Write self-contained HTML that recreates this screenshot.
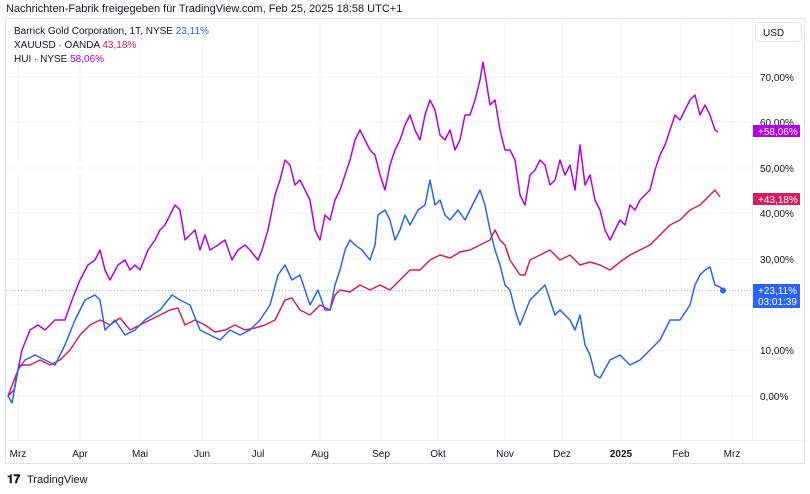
<!DOCTYPE html>
<html><head><meta charset="utf-8"><style>
body{margin:0;width:810px;height:489px;background:#fff;font-family:"Liberation Sans",sans-serif;overflow:hidden}
</style></head><body>
<svg width="810" height="489" xmlns="http://www.w3.org/2000/svg" font-family="Liberation Sans, sans-serif">
<text x="6" y="12" font-size="11" fill="#131722">Nachrichten-Fabrik freigegeben für TradingView.com, Feb 25, 2025 18:58 UTC+1</text>
<rect x="5.5" y="18.5" width="799" height="445" fill="none" stroke="#e0e3eb"/>
<line x1="752.5" y1="18" x2="752.5" y2="440" stroke="#eef0f3"/>
<line x1="6" y1="440.5" x2="804" y2="440.5" stroke="#eef0f3"/>
<g stroke="#f2f3f5">
<line x1="6" y1="77" x2="752" y2="77"/><line x1="6" y1="122" x2="752" y2="122"/><line x1="6" y1="168" x2="752" y2="168"/><line x1="6" y1="213" x2="752" y2="213"/><line x1="6" y1="259" x2="752" y2="259"/><line x1="6" y1="305" x2="752" y2="305"/><line x1="6" y1="350" x2="752" y2="350"/><line x1="6" y1="396" x2="752" y2="396"/>
<line x1="18" y1="18" x2="18" y2="440"/><line x1="80" y1="18" x2="80" y2="440"/><line x1="140" y1="18" x2="140" y2="440"/><line x1="202" y1="18" x2="202" y2="440"/><line x1="258" y1="18" x2="258" y2="440"/><line x1="320" y1="18" x2="320" y2="440"/><line x1="381" y1="18" x2="381" y2="440"/><line x1="438" y1="18" x2="438" y2="440"/><line x1="505" y1="18" x2="505" y2="440"/><line x1="562" y1="18" x2="562" y2="440"/><line x1="621" y1="18" x2="621" y2="440"/><line x1="681" y1="18" x2="681" y2="440"/><line x1="732" y1="18" x2="732" y2="440"/>
</g>
<line x1="6" y1="290.5" x2="752" y2="290.5" stroke="#9db4f0" stroke-dasharray="1,2"/>
<text x="14" y="34" font-size="10" fill="#131722">Barrick Gold Corporation, 1T, NYSE <tspan fill="#2962ff">23,11%</tspan></text>
<text x="14" y="48" font-size="10" fill="#131722">XAUUSD · OANDA <tspan fill="#d81b60">43,18%</tspan></text>
<text x="14" y="62" font-size="10" fill="#131722">HUI · NYSE <tspan fill="#b300e6">58,06%</tspan></text>
<rect x="755.5" y="22.5" width="46" height="19" rx="4" fill="#fff" stroke="#e0e3eb"/>
<text x="763" y="36" font-size="10" fill="#131722">USD</text>
<g font-size="10" fill="#131722">
<text x="760" y="81">70,00%</text><text x="760" y="126">60,00%</text><text x="760" y="172">50,00%</text><text x="760" y="217">40,00%</text><text x="760" y="263">30,00%</text><text x="760" y="354">10,00%</text><text x="760" y="400">0,00%</text>
</g>
<polyline fill="none" stroke="#b300e6" stroke-width="1.5" stroke-linejoin="round" points="8,396 14,390 22,350 30,330 38,325 45,330 55,320 65,320 72,300 80,280 88,265 95,260 100,250 105,270 110,280 118,265 125,260 130,270 135,265 140,270 148,250 155,240 160,230 165,225 170,215 175,205 180,210 185,240 195,230 200,250 205,235 210,250 218,245 225,240 232,260 238,250 245,245 250,250 258,260 262,250 268,230 275,195 280,180 285,160 290,165 295,185 300,180 305,190 310,200 315,230 320,240 325,215 330,220 335,200 340,190 345,175 350,160 355,140 360,130 365,140 370,150 375,155 380,175 385,190 390,165 395,150 400,140 405,125 410,115 415,130 420,140 425,115 430,100 435,110 440,135 445,140 450,130 455,150 460,140 465,115 470,115 475,100 480,80 483,62 486,80 490,105 495,100 500,130 505,150 510,150 515,160 520,195 525,205 530,175 535,170 540,160 545,165 550,185 555,180 560,160 565,175 570,165 575,190 580,145 585,185 590,175 595,200 600,210 605,230 610,240 615,230 620,220 625,225 630,205 635,210 640,200 645,195 650,190 655,170 660,155 665,145 670,130 675,115 680,120 685,110 690,100 695,95 700,115 705,105 710,115 715,130 718,132"/>
<polyline fill="none" stroke="#d81b60" stroke-width="1.5" stroke-linejoin="round" points="8,396 20,365 30,365 40,360 50,365 60,360 70,350 80,335 90,325 100,320 110,325 120,318 130,330 140,325 150,320 160,315 170,310 178,308 185,325 195,320 205,325 215,332 225,330 235,325 245,330 255,328 265,325 275,320 285,300 292,298 300,310 310,315 320,305 330,310 335,295 340,290 350,292 360,285 370,290 380,285 390,290 400,280 410,270 420,270 430,260 440,255 450,258 460,252 470,250 480,245 490,240 495,230 500,240 505,245 510,260 520,275 525,275 530,260 540,255 550,250 560,260 570,255 580,265 590,262 600,265 610,270 620,262 630,255 640,250 650,245 660,235 670,225 680,220 690,210 700,205 710,195 715,190 720,197"/>
<polyline fill="none" stroke="#2962ff" stroke-width="1.5" stroke-linejoin="round" points="8,396 12,403 18,370 25,360 35,355 45,360 55,365 65,345 75,320 85,300 95,295 100,300 105,330 115,320 125,335 135,330 145,320 160,310 172,295 180,300 190,305 200,330 210,335 220,340 230,330 240,335 250,330 260,320 270,305 278,275 285,265 292,280 300,275 310,305 318,290 325,310 330,310 335,285 340,270 345,250 350,240 355,245 362,250 370,260 375,245 378,215 385,210 390,220 395,240 400,230 405,215 410,225 418,210 425,205 430,180 435,205 440,200 445,215 450,220 458,210 465,220 475,200 480,190 485,205 490,230 495,250 500,265 505,285 510,290 515,310 520,325 530,300 540,290 545,285 550,300 555,315 560,310 570,320 575,330 580,315 585,345 590,355 595,375 600,378 610,360 620,355 630,365 640,360 650,350 660,340 670,320 680,320 690,305 695,285 700,275 705,270 710,267 715,285 720,287 723,290"/>
<circle cx="723" cy="290.5" r="3" fill="#2962ff"/>
<rect x="753" y="125" width="47" height="12" fill="#b300e6"/><text x="758" y="135" font-size="10" fill="#fff">+58,06%</text>
<rect x="753" y="193" width="47" height="12" fill="#d81b60"/><text x="758" y="203" font-size="10" fill="#fff">+43,18%</text>
<rect x="753" y="284" width="47" height="24" fill="#2962ff"/><text x="758" y="294" font-size="10" fill="#fff">+23,11%</text><text x="758" y="305" font-size="10" fill="#fff">03:01:39</text>
<g font-size="10" fill="#131722" text-anchor="middle">
<text x="18" y="457">Mrz</text><text x="80" y="457">Apr</text><text x="140" y="457">Mai</text><text x="202" y="457">Jun</text><text x="258" y="457">Jul</text><text x="320" y="457">Aug</text><text x="381" y="457">Sep</text><text x="438" y="457">Okt</text><text x="505" y="457">Nov</text><text x="562" y="457">Dez</text><text x="621" y="457" font-weight="bold">2025</text><text x="681" y="457">Feb</text><text x="732" y="457">Mrz</text>
</g>
<text x="7" y="483" font-size="12" font-weight="bold" fill="#131722">𝟏𝟕</text>
<text x="27" y="483" font-size="11" fill="#131722">TradingView</text>
</svg>
</body></html>
